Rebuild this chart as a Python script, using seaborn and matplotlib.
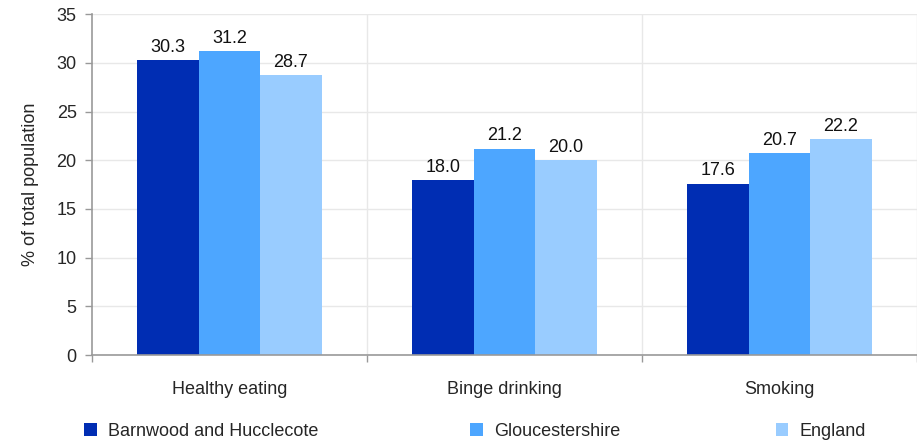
import pandas as pd
import matplotlib
matplotlib.use("Agg")
import matplotlib.pyplot as plt
import seaborn as sns
from matplotlib.patches import Patch

# ==========================================
# Data
# ==========================================
categories = ["Healthy eating", "Binge drinking", "Smoking"]
areas = ["Barnwood and Hucclecote", "Gloucestershire", "England"]
barnwood = [30.3, 18.0, 17.6]
gloucestershire = [31.2, 21.2, 20.7]
england = [28.7, 20.0, 22.2]
colors = ["#002db3", "#4da6ff", "#99ccff"]

df = pd.DataFrame({
    "Category": categories * 3,
    "Area": [a for a in areas for _ in categories],
    "Value": barnwood + gloucestershire + england,
})

FS = 13

# ==========================================
# Plot
# ==========================================
sns.set_style("white")
plt.rcParams["font.family"] = ["Liberation Sans", "DejaVu Sans"]
plt.rcParams["font.size"] = FS

fig = plt.figure(figsize=(9.17, 4.41), dpi=100)
ax = fig.add_axes([0.1003, 0.195, 0.8997, 0.773])

sns.barplot(data=df, x="Category", y="Value", hue="Area", hue_order=areas,
            palette=colors, width=0.67, gap=0, saturation=1, ax=ax,
            legend=False, linewidth=0, errorbar=None)

for cont in ax.containers:
    ax.bar_label(cont, fmt="%.1f", padding=3, fontsize=FS, color="#111111")

ax.set_xlim(-0.5, 2.5)
ax.set_ylim(0, 35)
ax.set_yticks(range(0, 36, 5))
ax.set_xlabel("")
ax.set_ylabel("% of total population", fontsize=FS, labelpad=13)

# grid lines
ax.set_axisbelow(True)
ax.yaxis.grid(True, color="#e8e8e8", linewidth=1)
for xb in [0.5, 1.5, 2.5]:
    ax.axvline(xb, color="#e8e8e8", linewidth=1, zorder=0)

# x ticks: labels at centres, tick marks on category borders
ax.set_xticks([-0.5, 0.5, 1.5, 2.5], minor=True)
ax.tick_params(axis="x", which="major", length=0, pad=19, labelsize=FS)
ax.tick_params(axis="x", which="minor", length=5, width=1, color="#999999", direction="out")
ax.tick_params(axis="y", length=5, width=1, color="#999999", direction="out", pad=6, labelsize=FS)
ax.tick_params(axis="x", which="minor", bottom=True)
ax.tick_params(axis="y", left=True)

for side in ["top", "right"]:
    ax.spines[side].set_visible(False)
for side in ["left", "bottom"]:
    ax.spines[side].set_color("#999999")
    ax.spines[side].set_linewidth(1.2)

# legend: one entry per area, spread along the bottom
legend_x = [0.092, 0.513, 0.846]
for name, col, lx in zip(areas, colors, legend_x):
    fig.legend(handles=[Patch(facecolor=col, edgecolor="none")], labels=[name],
               loc="center left", bbox_to_anchor=(lx, 0.022), frameon=False,
               fontsize=FS, handlelength=0.7, handleheight=0.7,
               handletextpad=0.6, borderpad=0, borderaxespad=0)

fig.savefig("out.png", dpi=100)
